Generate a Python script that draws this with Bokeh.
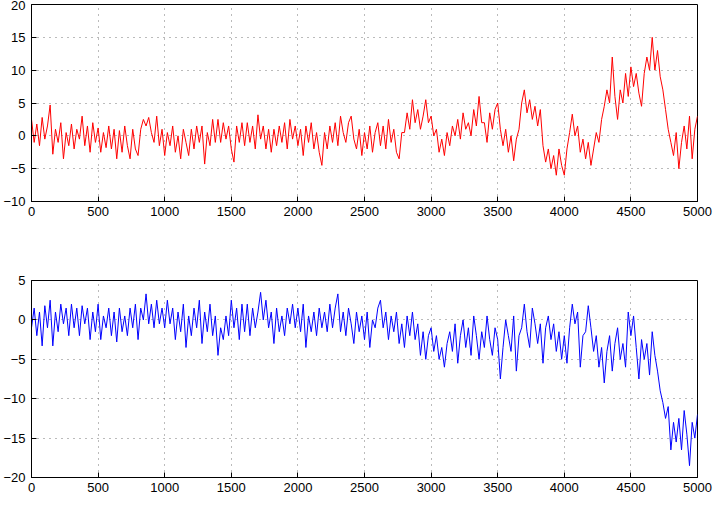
from bokeh.plotting import figure
from bokeh.layouts import column
from bokeh.models import Range1d, FixedTicker
from bokeh.embed import file_html
from bokeh.resources import INLINE

step = 20
x_vals = list(range(0, 5001, step))

red_series = [
    2.5, -1.0, 1.8, -1.5, 2.8, -0.5, 1.5, 4.7, -2.8, 1.0,
    -1.0, 2.0, -3.5, 0.5, -1.5, 1.8, -2.0, 1.0, -0.5, 3.0,
    -1.5, 1.5, -2.5, 2.0, -1.0, 1.2, -2.5, 0.5, -1.8, 1.5,
    -2.0, 1.0, -3.5, 0.8, -2.5, 1.5, -1.5, -3.5, 1.0, -2.0,
    -3.0, 1.0, 2.5, 1.5, 2.8, 0.5, -1.0, 3.0, -1.5, 1.0,
    -3.0, 0.5, -1.5, 1.5, -2.5, 0.0, -3.5, 1.0, -1.0, -3.0,
    1.0, -2.0, 1.5, -1.0, 1.5, -4.3, 0.5, -1.5, 2.5, -1.0,
    2.5, -1.0, 2.0, -0.5, 1.5, -2.0, -4.0, 1.5, -1.0, 2.0,
    -1.5, 2.0, -1.0, 1.5, -2.0, 3.2, -0.5, 1.5, -2.0, 1.0,
    -2.5, 1.0, -1.5, 1.5, -1.0, 2.0, -2.0, 2.5, -0.5, 1.5,
    -1.5, 1.0, -3.0, 1.5, -1.0, 2.0, -2.0, 0.5, -2.5, -4.5,
    0.5, -2.0, 1.5, -1.0, 2.0, -1.5, 3.0, 0.5, -1.0, 2.0,
    3.0, -0.5, -2.0, 1.0, -3.0, 0.5, -2.0, 1.5, -2.5, 0.5,
    2.0, -1.5, 1.5, -2.0, 2.5, -1.0, 1.0, -2.5, -3.5, 0.5,
    0.5, 3.5, 1.0, 5.5, 2.0, 4.0, 1.0, 3.0, 5.5, 2.0,
    3.0, 0.0, 1.0, -2.5, -0.5, -3.0, 0.5, -1.5, 1.5, 0.0,
    2.5, -0.5, 3.5, 1.0, 2.0, 0.0, 4.0, 1.5, 6.0, 2.0,
    2.0, -1.0, 3.5, 1.0, 4.0, 5.0, 1.0, -1.5, 1.0, -2.5,
    0.0, -3.8, -0.5, 1.0, 5.0, 7.0, 3.5, 5.5, 2.5, 4.5,
    1.5, 4.0, -1.5, -4.0, -2.0, -5.0, -3.0, -6.0, -2.0, -4.5,
    -6.0, -2.0, 0.5, 3.3, 0.0, 1.5, -2.5, -0.5, -3.5, -1.0,
    -4.5, -2.0, 0.5, -1.0, 2.5, 4.5, 7.0, 5.0, 12.0, 6.0,
    2.5, 7.0, 5.0, 9.5, 6.0, 10.5, 7.5, 9.5, 6.5, 4.5,
    9.5, 12.0, 10.0, 15.0, 10.0, 13.0, 9.0, 7.0, 4.0, 1.0,
    -1.0, -3.0, 0.5, -5.0, -1.0, 1.5, -2.0, 3.0, -3.5, 1.0,
    3.0,
]

blue_series = [
    -1.0, 1.5, -2.0, 1.0, -3.3, 1.8, -1.0, 2.5, -3.3, 1.0,
    -1.5, 2.0, -0.5, 1.5, -2.0, 2.0, -1.0, 1.5, -2.0, 1.8,
    -0.5, 1.5, -2.5, 1.0, -1.5, 2.0, -2.5, 0.5, -1.0, 1.5,
    -2.0, 1.0, -2.8, 1.5, -1.5, 0.5, -2.0, 1.5, -1.0, 2.0,
    -2.5, 1.5, 0.0, 3.3, -0.5, 2.0, -1.0, 2.5, -0.5, 1.5,
    -1.0, 2.5, -0.5, 1.5, -2.5, 1.0, -1.5, 2.0, -3.5, 0.5,
    -2.0, 1.5, -1.0, 2.5, -3.0, 1.0, -1.5, 2.0, -2.0, 0.5,
    -4.5, -1.0, -2.5, 0.5, -2.0, 2.5, -1.0, 1.5, -2.5, 2.0,
    -1.5, 2.0, -2.0, 1.5, -1.0, 1.0, 3.5, 0.0, 2.5, -1.0,
    1.0, -3.0, 1.5, -1.5, 0.5, -2.0, 1.5, -0.5, 2.0, -1.0,
    1.5, -1.5, 2.0, -3.5, 0.5, -1.5, 1.0, -2.0, 1.5, -1.0,
    1.0, -1.5, 2.0, -1.0, 1.5, 3.3, -1.5, 1.0, -2.0, 1.5,
    -0.5, -3.0, 1.0, -1.5, 0.5, -2.5, 1.0, -3.5, 0.0, -1.0,
    1.5, 2.5, -1.0, 1.0, -2.5, 0.5, -1.5, 1.0, -3.0, -0.5,
    -3.5, 0.5, -2.0, 1.0, -2.5, -0.5, -4.5, -1.5, -5.0, -2.0,
    -1.0, -4.0, -2.0, -5.0, -3.5, -6.0, -3.0, -1.5, -4.0, -0.5,
    -5.5, -2.0, 0.0, -3.5, -1.0, -4.5, 0.5, -2.0, -5.0, -1.5,
    -3.5, 0.5, -2.5, -4.5, -1.0, -2.5, -7.5, -3.5, 0.0, -2.0,
    -4.0, 0.5, -6.5, -2.0, -1.0, 2.0, -1.5, -3.5, 1.5, -0.5,
    -3.0, -0.5, -5.5, -1.0, 0.5, -2.5, -0.5, -4.0, -1.5, -5.0,
    -2.0, -5.5, -1.0, 2.0, -0.5, 1.0, -6.0, -2.0, -1.5, 1.8,
    -1.0, -4.0, -2.0, -6.0, -3.5, -8.0, -4.0, -2.0, -6.5, -3.0,
    -1.0, -5.0, -3.0, -6.0, 1.0, -2.0, 0.5, -3.5, -7.5, -2.5,
    -5.0, -3.0, -7.0, -1.5, -4.5, -6.5, -9.0, -10.5, -12.5, -11.0,
    -16.5, -13.0, -15.5, -12.5, -16.5, -11.5, -14.5, -18.5, -13.0, -15.0,
    -12.0,
]

x_ticks = [0, 500, 1000, 1500, 2000, 2500, 3000, 3500, 4000, 4500, 5000]
top_y_ticks = [-10, -5, 0, 5, 10, 15, 20]
bottom_y_ticks = [-20, -15, -10, -5, 0, 5]

FONT = "Liberation Sans"


def make_fig(y_range, y_ticks, height, border_top, border_bottom):
    p = figure(width=716, height=height, output_backend="svg", toolbar_location=None,
               x_range=Range1d(0, 5000), y_range=Range1d(*y_range),
               min_border_left=25, min_border_right=19,
               min_border_top=border_top, min_border_bottom=border_bottom)
    p.background_fill_color = "white"
    p.border_fill_color = "white"
    p.outline_line_color = "black"
    p.outline_line_width = 1
    p.xaxis.ticker = FixedTicker(ticks=x_ticks)
    p.yaxis.ticker = FixedTicker(ticks=y_ticks)
    for ax in (p.xaxis[0], p.yaxis[0]):
        ax.axis_line_color = "black"
        ax.major_tick_in = 5
        ax.major_tick_out = 0
        ax.minor_tick_line_color = None
        ax.major_label_text_font = FONT
        ax.major_label_text_font_size = "13px"
        ax.major_label_text_color = "black"
    p.xaxis.major_label_standoff = 5
    p.yaxis.major_label_standoff = 6
    p.xgrid.grid_line_color = "#555555"
    p.ygrid.grid_line_color = "#555555"
    p.xgrid.grid_line_dash = "1 5"
    p.ygrid.grid_line_dash = "1 5"
    p.xgrid.grid_line_alpha = 0.8
    p.ygrid.grid_line_alpha = 0.8
    return p


p1 = make_fig((-10, 20), top_y_ticks, 260, 4, 59)
p1.line(x_vals, red_series, line_color="#ff0000", line_width=1)

p2 = make_fig((-20, 5), bottom_y_ticks, 246, 20, 29)
p2.line(x_vals, blue_series, line_color="#0000ff", line_width=1)

layout = column(p1, p2, spacing=0)

html = file_html(layout, INLINE)
open("out.html", "w").write(html)
